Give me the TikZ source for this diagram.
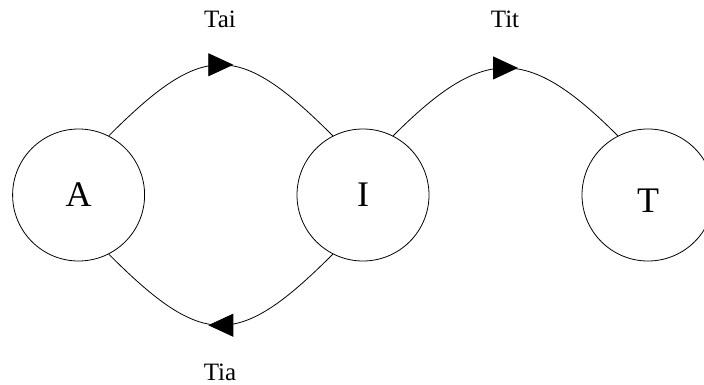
\documentclass[tikz,border=0pt]{standalone}
\usepackage{fontspec}
\setmainfont{Liberation Serif}
\usetikzlibrary{arrows.meta,decorations.markings}

\begin{document}
\begin{tikzpicture}[x=1pt,y=1pt,
    midarrow/.style={postaction={decorate},
      decoration={markings,
        mark=at position 0.5 with {\arrow[xshift=12.5pt]{Triangle[length=25pt,width=23pt]}}}}]
      \useasboundingbox (0,0) rectangle (704,384);
      \begin{scope}[every node/.style={circle,draw,line width=0.8pt,minimum size=132pt,inner sep=0pt,
          text height=23.8pt,text depth=0pt,font=\fontsize{36}{40}\selectfont}]
        \node (A) at (78.6,189) {A};
        \node (I) at (363,189) {I};
        \node (T) at (648,189) {\raisebox{-6pt}{T}};
      \end{scope}
      \begin{scope}[every node/.style={anchor=base,font=\fontsize{25}{30}\selectfont}]
        \node (tai) at (220,356) {Tai};
        \node (tit) at (505,356) {Tit};
        \node (tia) at (220,4) {Tia};
      \end{scope}
      \begin{scope}[line width=0.8pt]
        \draw[midarrow] (A.63) .. controls +(45:134pt) and +(135:134pt) .. (I.117);
        \draw[midarrow] (I.63) .. controls +(45:128pt) and +(135:128pt) .. (T.117);
        \draw[midarrow] (I.-117) .. controls +(-135:134pt) and +(-45:134pt) .. (A.-63);
      \end{scope}
    \end{tikzpicture}
\end{document}
